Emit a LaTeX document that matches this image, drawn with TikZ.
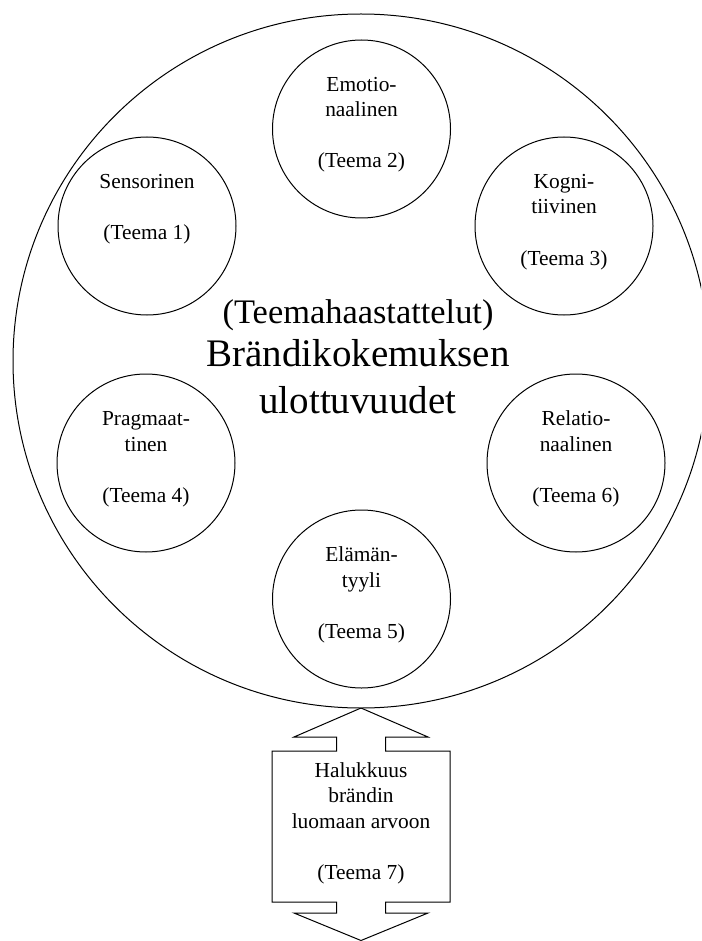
\documentclass[tikz,border=0pt]{standalone}
\usepackage{fontspec}
\setmainfont{Liberation Serif}
\usetikzlibrary{shapes.geometric}
\begin{document}
\begin{tikzpicture}[x=1pt,y=-1pt,line width=1pt,
  theme/.style={circle,draw,minimum size=178pt,inner sep=0pt},
  small/.style={anchor=base,inner sep=0pt,font=\fontsize{21.4}{25.5}\selectfont},
  midtext/.style={anchor=base,inner sep=0pt,font=\fontsize{34.4}{41}\selectfont},
  bigtext/.style={anchor=base,inner sep=0pt,font=\fontsize{39}{47}\selectfont}]
\useasboundingbox (0,0) rectangle (701,941);
\clip (0,0) rectangle (701,941);
\fill[white] (0,0) rectangle (701,941);

% outer frame
\node (frame) [ellipse,draw,minimum width=696pt,minimum height=694pt,inner sep=0pt] at (361,361) {};

% centre title
\node[midtext] (title1) at (358,323) {(Teemahaastattelut)};
\node[bigtext] (title2) at (358,366) {Brändikokemuksen};
\node[bigtext] (title3) at (358,413) {ulottuvuudet};

% the six dimensions (yshift is in page direction: positive = up)
\node[theme] (t1) at (147,226) {};
\node[theme] (t2) at (361.5,129) {};
\node[theme] (t3) at (564,226) {};
\node[theme] (t4) at (146,463) {};
\node[theme] (t5) at (361.5,599) {};
\node[theme] (t6) at (576,463) {};

\node[small] (t1a) at ([yshift=37.5pt]t1)  {Sensorinen};
\node[small] (t1c) at ([yshift=-13.5pt]t1) {(Teema 1)};

\node[small] (t2a) at ([yshift=37.5pt]t2) {Emotio-};
\node[small] (t2b) at ([yshift=12pt]t2)   {naalinen};
\node[small] (t2c) at ([yshift=-39pt]t2)  {(Teema 2)};

\node[small] (t3a) at ([yshift=37.5pt]t3) {Kogni-};
\node[small] (t3b) at ([yshift=12pt]t3)   {tiivinen};
\node[small] (t3c) at ([yshift=-39pt]t3)  {(Teema 3)};

\node[small] (t4a) at ([yshift=37.5pt]t4) {Pragmaat-};
\node[small] (t4b) at ([yshift=12pt]t4)   {tinen};
\node[small] (t4c) at ([yshift=-39pt]t4)  {(Teema 4)};

\node[small] (t5a) at ([yshift=37.5pt]t5) {Elämän-};
\node[small] (t5b) at ([yshift=12pt]t5)   {tyyli};
\node[small] (t5c) at ([yshift=-39pt]t5)  {(Teema 5)};

\node[small] (t6a) at ([yshift=37.5pt]t6) {Relatio-};
\node[small] (t6b) at ([yshift=12pt]t6)   {naalinen};
\node[small] (t6c) at ([yshift=-39pt]t6)  {(Teema 6)};

% up-down arrow callout
\coordinate (up) at (361,708);
\coordinate (down) at (361,940.5);
\draw[line join=miter] (up) -- (428,737) -- (385.5,737) -- (385.5,751) -- (450,751)
  -- (450,902) -- (385.5,902) -- (385.5,913) -- (428,913) -- (down)
  -- (294,913) -- (336.5,913) -- (336.5,902) -- (272,902) -- (272,751)
  -- (336.5,751) -- (336.5,737) -- (294,737) -- cycle;

\node[small] (w1) at (361,777) {Halukkuus};
\node[small] (w2) at (361,802.5) {brändin};
\node[small] (w3) at (361,828) {luomaan arvoon};
\node[small] (w4) at (361,879) {(Teema 7)};
\end{tikzpicture}
\end{document}
